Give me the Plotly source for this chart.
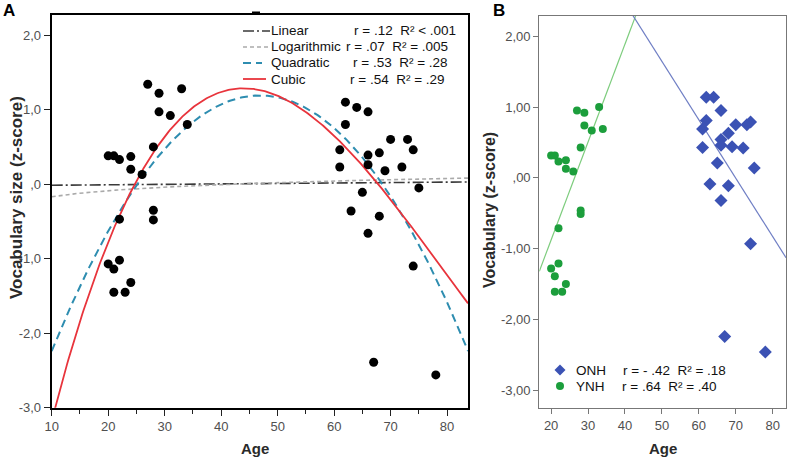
import numpy as np
import plotly.graph_objects as go

W, H = 787, 458

# ---------------- Panel A data ----------------
a_age = [27, 29, 33, 29, 31, 34, 28, 20, 21, 22, 24, 24, 26, 22, 28, 28, 20, 22, 21, 24, 21, 23,
         62, 64, 66, 62, 70, 73, 74, 61, 66, 68, 61, 66, 69, 72, 75, 65, 63, 68, 66, 74, 67, 78]
a_vocab = [1.34, 1.22, 1.28, 0.97, 0.92, 0.80, 0.50, 0.38, 0.38, 0.33, 0.37, 0.20, 0.13, -0.47,
           -0.35, -0.48, -1.07, -1.02, -1.14, -1.32, -1.45, -1.45,
           1.10, 1.03, 0.97, 0.80, 0.60, 0.60, 0.46, 0.46, 0.39, 0.42, 0.23, 0.26, 0.18, 0.23,
           -0.05, -0.11, -0.36, -0.43, -0.66, -1.10, -2.39, -2.56]

# fitted curve coefficients
lin_coef = [-0.0208, 0.00060]            # a + b*x
log_coef = [-0.441, 0.118]               # a + b*ln(x)
quad_center = 46.85
quad_coef = [1.19, 0.0, -0.002526]       # in t = x - center
cubic_coef = [1.2627, -0.016054, -0.002688, 0.00002756]  # in t = x - center

a_yticks = [-3, -2, -1, 0, 1, 2]
a_yticktext = ["-3,0", "-2,0", "-1,0", ",0", "1,0", "2,0"]
a_xticks = [10, 20, 30, 40, 50, 60, 70, 80]

legend_names = ["Linear", "Logarithmic", "Quadratic", "Cubic"]
legend_stats = ["r = .12  R\u00b2 < .001", "r = .07  R\u00b2 = .005",
                "r = .53  R\u00b2 = .28", "r = .54  R\u00b2 = .29"]

# ---------------- Panel B data ----------------
ynh_age = [27, 29, 33, 29, 31, 34, 28, 20, 21, 22, 24, 24, 26, 28, 28, 22, 22, 20, 21, 24, 21, 23]
ynh_vocab = [0.95, 0.92, 1.00, 0.74, 0.67, 0.69, 0.43, 0.315, 0.315, 0.23, 0.25, 0.13, 0.09,
             -0.46, -0.51, -0.71, -1.21, -1.28, -1.39, -1.50, -1.61, -1.61]
onh_age = [62, 64, 66, 62, 61, 70, 73, 74, 68, 66, 66, 61, 69, 72, 65, 75, 63, 68, 66, 74, 67, 78]
onh_vocab = [1.14, 1.14, 0.95, 0.81, 0.69, 0.75, 0.75, 0.79, 0.63, 0.54, 0.46, 0.43, 0.44, 0.42,
             0.21, 0.14, -0.085, -0.11, -0.32, -0.93, -2.24, -2.46]
ynh_line = [-3.643, 0.1383]   # intercept, slope
onh_line = [5.77, -0.0825]

b_yticks = [-3, -2, -1, 0, 1, 2]
b_yticktext = ["-3,00", "-2,00", "-1,00", ",00", "1,00", "2,00"]
b_xticks = [20, 30, 40, 50, 60, 70, 80]

# ---------------- layout geometry ----------------
def px(x):
    return x / W

def py(y):
    return 1 - y / H

A_X = [px(51.7), px(468)]
A_Y = [py(407.7), py(15)]
B_X = [px(539.3), px(786)]
B_Y = [py(408), py(15.7)]
A_XR = [10, 83.7]
A_YR = [-3.0, 2.27]
B_XR = [16.8, 83.6]
B_YR = [-3.25, 2.29]

fig = go.Figure()

# curves panel A
xs = np.linspace(A_XR[0], A_XR[1], 300)
t = xs - quad_center
y_lin = lin_coef[0] + lin_coef[1] * xs
y_log = log_coef[0] + log_coef[1] * np.log(xs)
y_quad = quad_coef[0] + quad_coef[1] * t + quad_coef[2] * t ** 2
y_cub = cubic_coef[0] + cubic_coef[1] * t + cubic_coef[2] * t ** 2 + cubic_coef[3] * t ** 3

styles = [
    dict(color="#3a3a3a", width=1.6, dash="11px,3px,2px,3px"),
    dict(color="#aaaaaa", width=1.6, dash="4px,3px"),
    dict(color="#2e8db0", width=2, dash="8px,5px"),
    dict(color="#e8343c", width=1.8, dash="solid"),
]
for yy, st in zip([y_lin, y_log, y_quad, y_cub], styles):
    fig.add_trace(go.Scatter(x=xs.tolist(), y=yy.tolist(), mode="lines", line=st, xaxis="x", yaxis="y",
                             showlegend=False, hoverinfo="skip"))

fig.add_trace(go.Scatter(x=a_age, y=a_vocab, mode="markers", xaxis="x", yaxis="y",
                         marker=dict(color="black", size=9), showlegend=False, cliponaxis=False))

# panel B lines and points
xb = list(B_XR)
fig.add_trace(go.Scatter(x=xb, y=[ynh_line[0] + ynh_line[1] * v for v in xb], mode="lines",
                         line=dict(color="#7dcc7d", width=1.2), xaxis="x2", yaxis="y2",
                         showlegend=False))
fig.add_trace(go.Scatter(x=xb, y=[onh_line[0] + onh_line[1] * v for v in xb], mode="lines",
                         line=dict(color="#6f7ec4", width=1.2), xaxis="x2", yaxis="y2",
                         showlegend=False))
fig.add_trace(go.Scatter(x=ynh_age, y=ynh_vocab, mode="markers", xaxis="x2", yaxis="y2",
                         marker=dict(color="#1c9e3c", size=8), showlegend=False))
fig.add_trace(go.Scatter(x=onh_age, y=onh_vocab, mode="markers", xaxis="x2", yaxis="y2",
                         marker=dict(color="#3b52b4", size=10, symbol="diamond"), showlegend=False))

tickfont = dict(family="Liberation Sans, Arial", size=13, color="#505050")

fig.update_layout(
    width=W, height=H, margin=dict(l=0, r=0, t=0, b=0),
    paper_bgcolor="white", plot_bgcolor="white",
    xaxis=dict(domain=A_X, range=A_XR, tickvals=a_xticks, ticks="outside", ticklen=6,
               tickwidth=1.2, tickcolor="#222", showline=True, linecolor="black", linewidth=2,
               mirror=True, showgrid=False, zeroline=False, tickfont=tickfont, anchor="y",
               automargin=False,
               minor=dict(dtick=5, tick0=0, ticks="outside", ticklen=4, tickwidth=1,
                          tickcolor="#222", showgrid=False)),
    yaxis=dict(domain=A_Y, range=A_YR, tickvals=a_yticks, ticktext=a_yticktext, ticks="outside",
               ticklen=6, tickwidth=1.2, tickcolor="#222", showline=True, linecolor="black",
               linewidth=2, mirror=True, showgrid=False, zeroline=False, tickfont=tickfont,
               anchor="x", automargin=False),
    xaxis2=dict(domain=B_X, range=B_XR, tickvals=b_xticks, ticks="outside", ticklen=5,
                tickcolor="#777", showline=True, linecolor="#777", linewidth=1.2, mirror=True,
                showgrid=False, zeroline=False, tickfont=tickfont, anchor="y2", automargin=False),
    yaxis2=dict(domain=B_Y, range=B_YR, tickvals=b_yticks, ticktext=b_yticktext, ticks="outside",
                ticklen=5, tickcolor="#777", showline=True, linecolor="#777", linewidth=1.2,
                mirror=True, showgrid=False, zeroline=False, tickfont=tickfont, anchor="x2",
                automargin=False),
)

ann = []
titlefont = dict(family="Liberation Sans, Arial", size=15, color="#2a2a2a")
ann.append(dict(text="<b>A</b>", x=px(2), y=py(10), xanchor="left", yanchor="middle",
                font=dict(family="Liberation Sans, Arial", size=17, color="black")))
ann.append(dict(text="<b>B</b>", x=px(492), y=py(10), xanchor="left", yanchor="middle",
                font=dict(family="Liberation Sans, Arial", size=17, color="black")))
ann.append(dict(text="<b>Age</b>", x=px(255), y=py(448), xanchor="center", yanchor="middle", font=titlefont))
ann.append(dict(text="<b>Age</b>", x=px(663), y=py(448), xanchor="center", yanchor="middle", font=titlefont))
ann.append(dict(text="<b>Vocabulary size (z-score)</b>", x=px(16), y=py(198), textangle=-90,
                xanchor="center", yanchor="middle",
                font=dict(family="Liberation Sans, Arial", size=17, color="#2a2a2a")))
ann.append(dict(text="<b>Vocabulary (z-score)</b>", x=px(489), y=py(210), textangle=-90,
                xanchor="center", yanchor="middle",
                font=dict(family="Liberation Sans, Arial", size=16, color="#2a2a2a")))

legfont = dict(family="Liberation Sans, Arial", size=13.5, color="#111")
row_y = [31, 47, 63, 79]
stat_x = [353, 345, 352, 349]
for i in range(4):
    ann.append(dict(text=legend_names[i], x=px(270), y=py(row_y[i]), xanchor="left",
                    yanchor="middle", font=legfont))
    ann.append(dict(text=legend_stats[i], x=px(stat_x[i]), y=py(row_y[i]), xanchor="left",
                    yanchor="middle", font=legfont))

ann.append(dict(text="ONH", x=px(575), y=py(370), xanchor="left", yanchor="middle", font=legfont))
ann.append(dict(text="r = - .42  R\u00b2 = .18", x=px(622), y=py(370), xanchor="left",
                yanchor="middle", font=legfont))
ann.append(dict(text="YNH", x=px(575), y=py(386), xanchor="left", yanchor="middle", font=legfont))
ann.append(dict(text="r = .64  R\u00b2 = .40", x=px(621), y=py(386), xanchor="left",
                yanchor="middle", font=legfont))
for a in ann:
    a.update(xref="paper", yref="paper", showarrow=False, borderpad=0)
fig.update_layout(annotations=ann)

shapes = []
seg = [(243, 270), (243, 268), (243, 262), (243, 266)]
for i, st in enumerate(styles):
    shapes.append(dict(type="line", xref="paper", yref="paper", x0=px(seg[i][0]), x1=px(seg[i][1]),
                       y0=py(row_y[i]), y1=py(row_y[i]), line=st))
# small mark on top border of panel A
shapes.append(dict(type="rect", xref="paper", yref="paper", x0=px(252), x1=px(260), y0=py(15),
                   y1=py(11.5), fillcolor="black", line=dict(width=0)))
# legend markers panel B (diamond and circle)
cx, cy, r = 560, 370, 5.5
shapes.append(dict(type="path", xref="paper", yref="paper",
                   path=f"M {px(cx-r)},{py(cy)} L {px(cx)},{py(cy-r)} L {px(cx+r)},{py(cy)} L {px(cx)},{py(cy+r)} Z",
                   fillcolor="#3b52b4", line=dict(width=0)))
cx, cy, r = 560, 386, 4
shapes.append(dict(type="circle", xref="paper", yref="paper", x0=px(cx-r), x1=px(cx+r),
                   y0=py(cy+r), y1=py(cy-r), fillcolor="#1c9e3c", line=dict(width=0)))
fig.update_layout(shapes=shapes)

fig.write_html("out.html", config={"displayModeBar": False},
               post_script="document.body.style.margin='0';document.body.style.overflow='hidden';")
